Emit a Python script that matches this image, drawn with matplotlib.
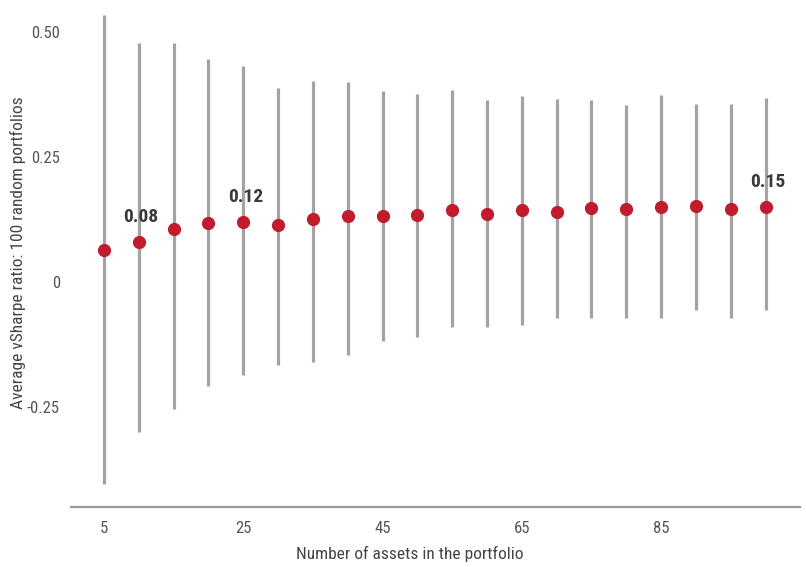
import numpy as np
import matplotlib
matplotlib.use("Agg")
import matplotlib.pyplot as plt
from matplotlib import font_manager

# pick a narrow sans if one is installed
installed = {f.name for f in font_manager.fontManager.ttflist}
narrow = [n for n in ['Roboto Condensed', 'Liberation Sans Narrow', 'Open Sans Condensed',
                      'Noto Sans Condensed', 'DejaVu Sans Condensed'] if n in installed]
extra = sorted(n for n in installed if 'Cond' in n or 'Narrow' in n)
plt.rcParams['font.family'] = narrow + extra + ['DejaVu Sans']
plt.rcParams['font.stretch'] = 'condensed'

# number of assets and the spread of vSharpe across 100 random portfolios
n_assets = [5, 10, 15, 20, 25, 30, 35, 40, 45, 50,
            55, 60, 65, 70, 75, 80, 85, 90, 95, 100]
avg_sharpe = [0.063, 0.08, 0.105, 0.117, 0.12, 0.113, 0.125, 0.132, 0.132, 0.133,
              0.143, 0.135, 0.144, 0.140, 0.147, 0.145, 0.149, 0.151, 0.145, 0.15]
max_sharpe = [0.533, 0.477, 0.477, 0.446, 0.431, 0.387, 0.402, 0.400, 0.382, 0.376,
              0.384, 0.363, 0.371, 0.365, 0.364, 0.354, 0.373, 0.356, 0.356, 0.368]
min_sharpe = [-0.405, -0.300, -0.255, -0.208, -0.187, -0.167, -0.161, -0.146, -0.118, -0.110,
              -0.090, -0.090, -0.087, -0.073, -0.073, -0.073, -0.073, -0.057, -0.073, -0.057]
labelled = [1, 4, 19]

ytick_vals = [-0.25, 0, 0.25, 0.50]
ytick_text = ['-0.25', '0', '0.25', '0.50']
xtick_vals = [5, 25, 45, 65, 85]

fig = plt.figure(figsize=(8.06, 5.67), dpi=100)
ax = fig.add_axes([0.088, 0.106, 0.905, 0.894])

ax.vlines(n_assets, min_sharpe, max_sharpe, color='#a3a3a3', linewidth=2.3, zorder=1)
ax.plot(n_assets, avg_sharpe, 'o', color='#c11b2e', markersize=8.5, zorder=2)

for i in labelled:
    ax.annotate(f'{avg_sharpe[i]:.2f}', (n_assets[i], avg_sharpe[i]),
                xytext=(1.5, 11), textcoords='offset points', ha='center', va='bottom',
                fontsize=14, fontweight='bold', color='#3a3a3a')

ax.set_xlim(0.25, 105)
ax.set_ylim(-0.45, 0.563)
ax.set_yticks(ytick_vals)
ax.set_yticklabels(ytick_text)
ax.set_xticks(xtick_vals)
ax.tick_params(length=0, labelsize=12, colors='#555555')
ax.tick_params(axis='y', pad=8)
ax.tick_params(axis='x', pad=10)

for s in ['top', 'right', 'left']:
    ax.spines[s].set_visible(False)
ax.spines['bottom'].set_color('#9a9a9a')
ax.spines['bottom'].set_linewidth(1.6)

fig.text(18 / 806, 1 - 253 / 567, 'Average vSharpe ratio: 100 random portfolios',
         rotation=90, ha='center', va='center', fontsize=12.5, color='#444444')
fig.text(410 / 806, 1 - 554 / 567, 'Number of assets in the portfolio',
         ha='center', va='center', fontsize=12.5, color='#444444')

fig.savefig('out.png', dpi=100)
